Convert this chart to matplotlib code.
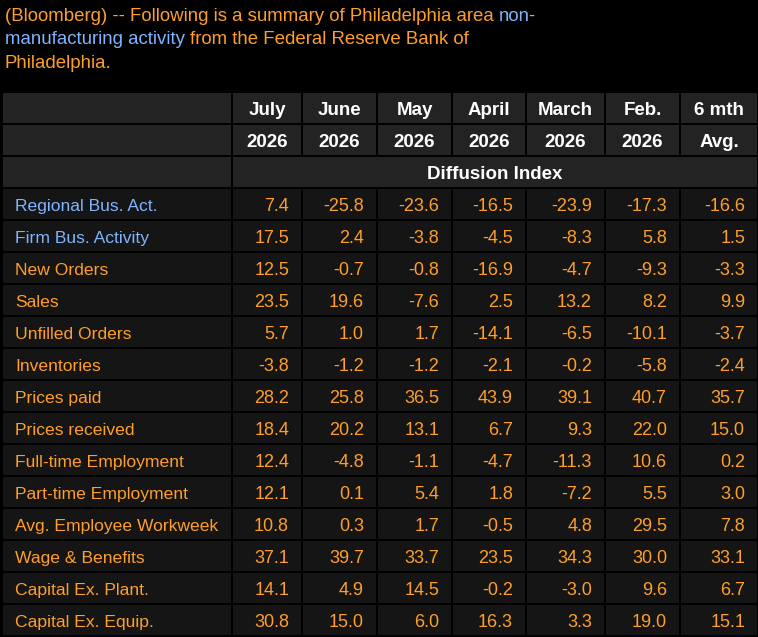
import matplotlib
matplotlib.use("Agg")
import matplotlib.pyplot as plt
from matplotlib.patches import Rectangle

# ---- data -------------------------------------------------------------
months = ["July", "June", "May", "April", "March", "Feb.", "6 mth"]
years = ["2026", "2026", "2026", "2026", "2026", "2026", "Avg."]
subheader = "Diffusion Index"

labels = ["Regional Bus. Act.", "Firm Bus. Activity", "New Orders", "Sales",
          "Unfilled Orders", "Inventories", "Prices paid", "Prices received",
          "Full-time Employment", "Part-time Employment",
          "Avg. Employee Workweek", "Wage & Benefits", "Capital Ex. Plant.",
          "Capital Ex. Equip."]

july = [7.4, 17.5, 12.5, 23.5, 5.7, -3.8, 28.2, 18.4, 12.4, 12.1, 10.8, 37.1, 14.1, 30.8]
june = [-25.8, 2.4, -0.7, 19.6, 1.0, -1.2, 25.8, 20.2, -4.8, 0.1, 0.3, 39.7, 4.9, 15.0]
may = [-23.6, -3.8, -0.8, -7.6, 1.7, -1.2, 36.5, 13.1, -1.1, 5.4, 1.7, 33.7, 14.5, 6.0]
april = [-16.5, -4.5, -16.9, 2.5, -14.1, -2.1, 43.9, 6.7, -4.7, 1.8, -0.5, 23.5, -0.2, 16.3]
march = [-23.9, -8.3, -4.7, 13.2, -6.5, -0.2, 39.1, 9.3, -11.3, -7.2, 4.8, 34.3, -3.0, 3.3]
feb = [-17.3, 5.8, -9.3, 8.2, -10.1, -5.8, 40.7, 22.0, 10.6, 5.5, 29.5, 30.0, 9.6, 19.0]
avg6 = [-16.6, 1.5, -3.3, 9.9, -3.7, -2.4, 35.7, 15.0, 0.2, 3.0, 7.8, 33.1, 6.7, 15.1]
columns = [july, june, may, april, march, feb, avg6]
blue_rows = 2  # first rows shown as links

title_lines = [
    [("(Bloomberg) -- Following is a summary of Philadelphia area ", "o"), ("non-", "b")],
    [("manufacturing activity ", "b"), ("from the Federal Reserve Bank of", "o")],
    [("Philadelphia.", "o")],
]

# ---- style ------------------------------------------------------------
ORANGE = "#ff9f2a"
BLUE = "#7fb4ff"
WHITE = "#ffffff"
HEAD_BG = "#232323"
ROW_BG = "#151515"
FONT = "Liberation Sans"
FS_LABEL = 12.6
FS_NUM = 13
FS_TITLE = 13.4
FS_HEAD = 13.5

W, H = 758, 637
col_edges = [2, 232, 302, 377, 452, 526, 605, 680, 758]
table_top = 92
row_h = 32
gap = 1

fig = plt.figure(figsize=(W / 100, H / 100), dpi=100, facecolor="black")
ax = fig.add_axes([0, 0, 1, 1])
ax.set_xlim(0, W)
ax.set_ylim(H, 0)
ax.axis("off")
ax.set_facecolor("black")


def cell(x0, x1, y0, color):
    ax.add_patch(Rectangle((x0 + gap, y0 + gap), x1 - x0 - 2 * gap, row_h - 2 * gap,
                           facecolor=color, edgecolor="none"))


# title with coloured segments
renderer = fig.canvas.get_renderer()


def text_w(s):
    t = ax.text(0, 0, s, fontsize=FS_TITLE, family=FONT)
    w = t.get_window_extent(renderer).width
    t.remove()
    return w


ref_w = text_w("n")
for i, segs in enumerate(title_lines):
    x = 5
    yb = 21 + i * 23.5
    for s, c in segs:
        ax.text(x, yb, s, fontsize=FS_TITLE, family=FONT, va="baseline",
                color=ORANGE if c == "o" else BLUE)
        x += text_w(s + "n") - ref_w

# header rows
n_cols = len(columns)
for r in range(3):
    y0 = table_top + r * row_h
    if r < 2:
        cell(col_edges[0], col_edges[1], y0, HEAD_BG)
        hdr = months if r == 0 else years
        for j in range(n_cols):
            x0, x1 = col_edges[j + 1], col_edges[j + 2]
            cell(x0, x1, y0, HEAD_BG)
            ax.text((x0 + x1) / 2, y0 + 23, hdr[j], fontsize=FS_HEAD, family=FONT,
                    weight="bold", color=WHITE, ha="center", va="baseline")
    else:
        cell(col_edges[0], col_edges[1], y0, HEAD_BG)
        cell(col_edges[1], col_edges[-1], y0, HEAD_BG)
        ax.text((col_edges[1] + col_edges[-1]) / 2, y0 + 23, subheader, fontsize=FS_HEAD,
                family=FONT, weight="bold", color=WHITE, ha="center", va="baseline")

# data rows
body_top = table_top + 3 * row_h
for i, lab in enumerate(labels):
    y0 = body_top + i * row_h
    cell(col_edges[0], col_edges[1], y0, ROW_BG)
    ax.text(col_edges[0] + 13, y0 + 23, lab, fontsize=FS_LABEL, family=FONT,
            color=BLUE if i < blue_rows else ORANGE, va="baseline")
    for j, col in enumerate(columns):
        x0, x1 = col_edges[j + 1], col_edges[j + 2]
        cell(x0, x1, y0, ROW_BG)
        ax.text(x1 - 13, y0 + 23, f"{col[i]:.1f}", fontsize=FS_NUM, family=FONT,
                color=ORANGE, ha="right", va="baseline")

fig.savefig("out.png", dpi=100, facecolor="black")
